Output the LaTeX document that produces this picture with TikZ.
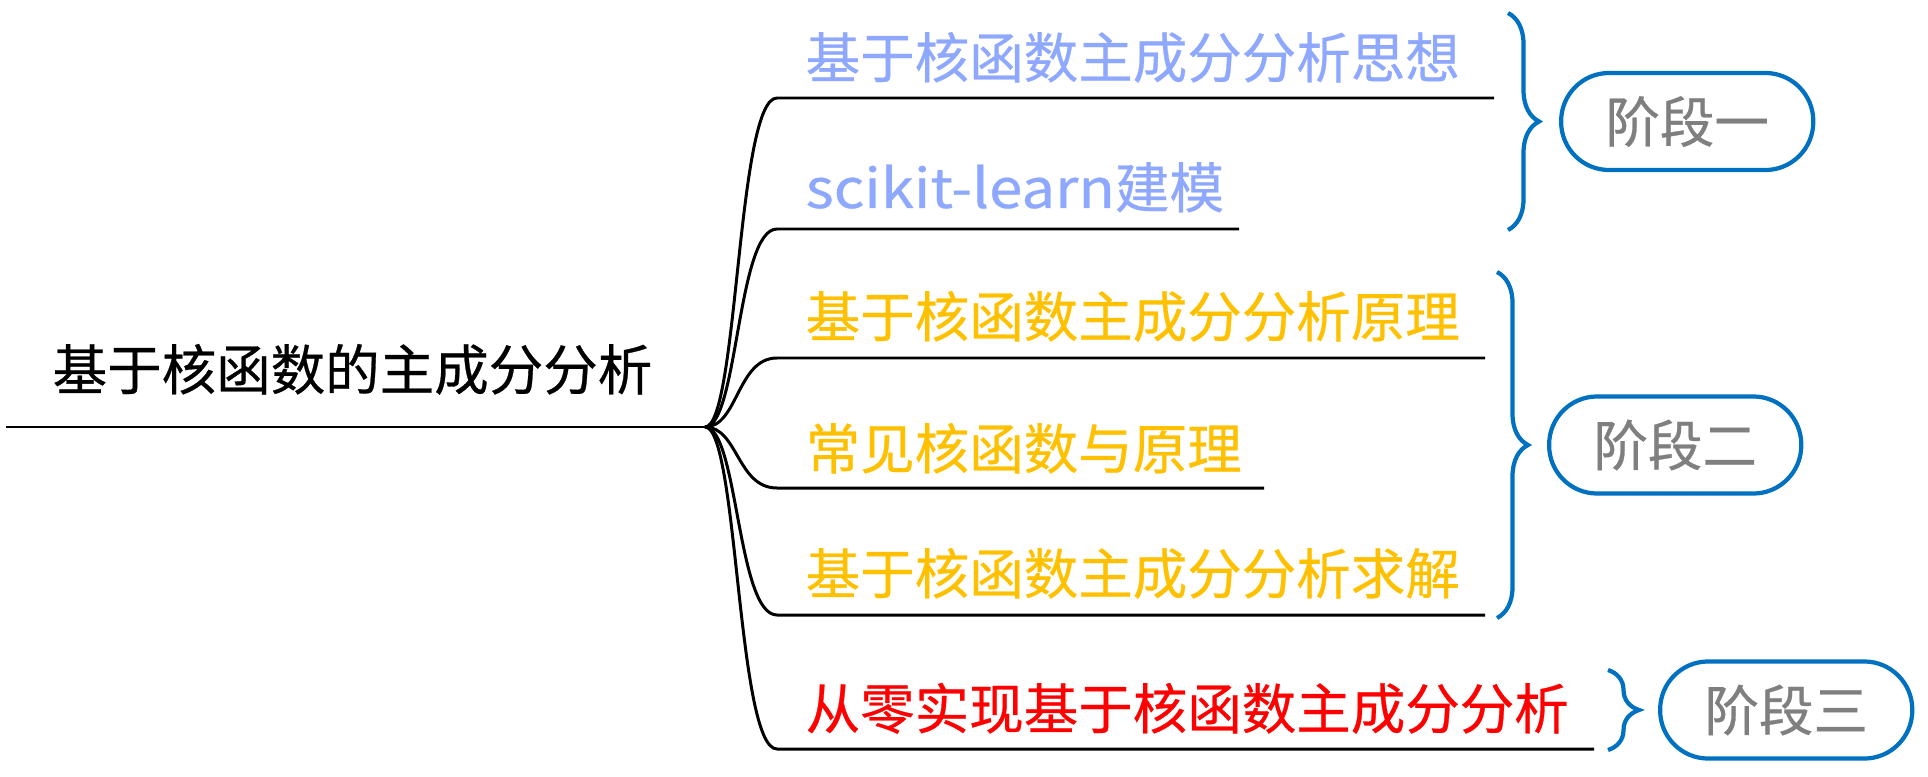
\documentclass[tikz,border=0pt]{standalone}
\usepackage{fontspec}
\setmainfont{Noto Sans CJK SC}[FakeBold=0.5]
\usetikzlibrary{positioning,decorations.pathreplacing}
\definecolor{ideablue}{HTML}{8FA8FF}
\definecolor{theoryyellow}{HTML}{FFC000}
\definecolor{codered}{HTML}{FF0000}
\definecolor{braceblue}{HTML}{0070C0}
\definecolor{stagegray}{HTML}{7F7F7F}
\begin{document}
\begin{tikzpicture}[x=0.01cm, y=-0.01cm,
                    topicnode/.style={anchor=base west, inner sep=0pt, font=\fontsize{15.5pt}{18pt}\selectfont},
                    branchline/.style={draw=black, line width=0.85pt},
                    stagebrace/.style={draw=braceblue, line width=1.2pt, decorate, decoration={brace, amplitude=0.31cm}},
                    stagenode/.style={rectangle, draw=braceblue, line width=1.2pt, rounded corners=0.48cm, minimum width=2.52cm, minimum height=0.97cm, text=stagegray, font=\fontsize{15.5pt}{18pt}\selectfont}]
    \useasboundingbox (0,0) rectangle (1928,776);
    % root
    \node[topicnode] (root) at (52,390) {基于核函数的主成分分析};
    \coordinate (start) at (6,427);
    \coordinate (hub) at (705,427);
    \draw[branchline] (start) -- (hub);
    % branches
    \node[topicnode, text=ideablue] (t1) at (805,78) {基于核函数主成分分析思想};
    \node[topicnode, text=ideablue] (t2) at (805,208) {{\addfontfeatures{FakeStretch=1.1}scikit-learn}建模};
    \node[topicnode, text=theoryyellow] (t3) at (805,337) {基于核函数主成分分析原理};
    \node[topicnode, text=theoryyellow] (t4) at (805,469) {常见核函数与原理};
    \node[topicnode, text=theoryyellow] (t5) at (805,594) {基于核函数主成分分析求解};
    \node[topicnode, text=codered] (t6) at (805,729) {从零实现基于核函数主成分分析};
    \coordinate (u1a) at (777,98);  \coordinate (u1b) at (1494,98);
    \coordinate (u2a) at (777,229); \coordinate (u2b) at (1239,229);
    \coordinate (u3a) at (777,358); \coordinate (u3b) at (1485,358);
    \coordinate (u4a) at (777,488); \coordinate (u4b) at (1264,488);
    \coordinate (u5a) at (777,615); \coordinate (u5b) at (1485,615);
    \coordinate (u6a) at (777,749); \coordinate (u6b) at (1594,749);
    \draw[branchline] (hub) .. controls +(33,0) and +(-40,0) .. (u1a) -- (u1b);
    \draw[branchline] (hub) .. controls +(33,0) and +(-40,0) .. (u2a) -- (u2b);
    \draw[branchline] (hub) .. controls +(33,0) and +(-40,0) .. (u3a) -- (u3b);
    \draw[branchline] (hub) .. controls +(33,0) and +(-40,0) .. (u4a) -- (u4b);
    \draw[branchline] (hub) .. controls +(33,0) and +(-40,0) .. (u5a) -- (u5b);
    \draw[branchline] (hub) .. controls +(33,0) and +(-40,0) .. (u6a) -- (u6b);
    % stages
    \coordinate (b1top) at (1508,13);  \coordinate (b1bot) at (1508,230);
    \coordinate (b2top) at (1497,272); \coordinate (b2bot) at (1497,618);
    \coordinate (b3top) at (1608,670); \coordinate (b3bot) at (1608,750);
    \coordinate (tip1) at (1539,121.5);
    \coordinate (tip2) at (1528,445);
    \coordinate (tip3) at (1639,710);
    \draw[stagebrace] (b1top) -- (b1bot);
    \draw[stagebrace] (b2top) -- (b2bot);
    \draw[stagebrace] (b3top) -- (b3bot);
    \node[stagenode, right=0.2cm of tip1] (s1) {阶段一};
    \node[stagenode, right=0.19cm of tip2] (s2) {阶段二};
    \node[stagenode, right=0.19cm of tip3] (s3) {阶段三};
\end{tikzpicture}
\end{document}
